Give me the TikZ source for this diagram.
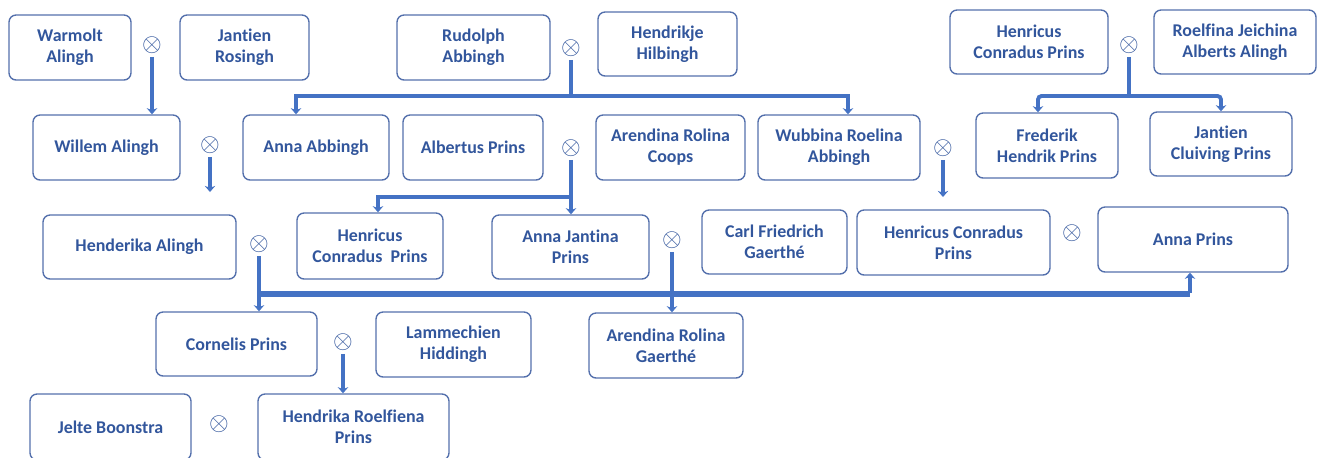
\documentclass[tikz,border=0pt]{standalone}
\usepackage{fontspec}
\setmainfont{Carlito}[Ligatures=NoCommon]
\usepackage{tikz}
\usetikzlibrary{arrows.meta,calc}
\definecolor{linkblue}{RGB}{68,114,196}
\definecolor{boxblue}{RGB}{84,112,172}
\definecolor{nameblue}{RGB}{50,86,156}
\tikzset{
  person/.style = {draw=boxblue, line width=0.8pt, rounded corners=4pt, align=center,
                   text=nameblue, font=\bfseries\fontsize{10.2}{11.9}\selectfont,
                   minimum height=1.3cm, inner sep=0pt},
  marry/.style  = {text=nameblue, inner sep=0pt, outer sep=2pt,
                   font=\fontsize{15}{15}\selectfont},
  wire/.style   = {draw=linkblue, line width=2.2pt},
  post/.style   = {wire, -{Stealth[length=3.5pt,width=6pt]}},
  bus/.style    = {draw=linkblue, line width=3.2pt}
}

\begin{document}
\begin{tikzpicture}[x=0.02cm,y=-0.02cm]
  \useasboundingbox (0,0) rectangle (1323,457);
  % oldest couples
  \node[person, minimum width=2.44cm] (WA) at (70,47.5) {Warmolt\\Alingh};
  \node[person, minimum width=2.58cm] (JR) at (244.5,47.5) {Jantien\\Rosingh};
  \node[person, minimum width=3.06cm] (RA) at (473.5,47.5) {Rudolph\\Abbingh};
  \node[person, minimum width=2.78cm, minimum height=1.28cm] (HH) at (667.5,44) {Hendrikje\\Hilbingh};
  \node[person, minimum width=3.16cm, minimum height=1.28cm] (HCP) at (1029,42) {Henricus\\Conradus Prins};
  \node[person, minimum width=3.24cm, minimum height=1.28cm] (RJA) at (1235,42) {Roelfina Jeichina\\Alberts Alingh};
  % second row
  \node[person, minimum width=2.94cm] (WiA) at (106.5,147.5) {Willem Alingh};
  \node[person, minimum width=2.92cm] (AA) at (316,147.5) {Anna Abbingh};
  \node[person, minimum width=2.80cm] (AbP) at (473,147.5) {Albertus Prins};
  \node[person, minimum width=2.98cm] (ARC) at (670.5,147.5) {Arendina Rolina\\Coops};
  \node[person, minimum width=3.24cm] (WRA) at (839,147.5) {Wubbina Roelina\\Abbingh};
  \node[person, minimum width=2.84cm] (FHP) at (1047,145.5) {Frederik\\Hendrik Prins};
  \node[person, minimum width=2.84cm, minimum height=1.28cm] (JCP) at (1221,144) {Jantien\\Cluiving Prins};
  % third row
  \node[person, minimum width=3.86cm, minimum height=1.28cm] (HA) at (139.5,247) {Henderika Alingh};
  \node[person, minimum width=2.92cm, minimum height=1.32cm] (HCP2) at (370,246) {Henricus\\Conradus\ \ Prins};
  \node[person, minimum width=3.14cm, minimum height=1.28cm] (AJP) at (570.5,247) {Anna Jantina\\Prins};
  \node[person, minimum width=2.90cm, minimum height=1.28cm] (CFG) at (774.5,242) {Carl Friedrich\\Gaerth\'e};
  \node[person, minimum width=3.86cm] (HCP3) at (953.5,242.5) {Henricus Conradus\\Prins};
  \node[person, minimum width=3.80cm] (AP) at (1193,239.5) {Anna Prins};
  % fourth row
  \node[person, minimum width=3.22cm, minimum height=1.28cm] (CP) at (236.5,344) {Cornelis Prins};
  \node[person, minimum width=3.10cm] (LH) at (453.5,344.5) {Lammechien\\Hiddingh};
  \node[person, minimum width=3.08cm] (ARG) at (666,345.5) {Arendina Rolina\\Gaerth\'e};
  % last row
  \node[person, minimum width=3.22cm, minimum height=1.32cm] (JB) at (110.5,427) {Jelte Boonstra};
  \node[person, minimum width=3.82cm, minimum height=1.32cm] (HRP) at (353.5,427) {Hendrika Roelfiena\\Prins};

  % marriages
  \node[marry] (xWA)  at (152,45)   {$\otimes$};
  \node[marry] (xRA)  at (571,48)   {$\otimes$};
  \node[marry] (xHCP) at (1129,45)  {$\otimes$};
  \node[marry] (xWiA) at (210,145)  {$\otimes$};
  \node[marry] (xAbP) at (571,148)  {$\otimes$};
  \node[marry] (xWRA) at (943,148)  {$\otimes$};
  \node[marry] (xHA)  at (259,244)  {$\otimes$};
  \node[marry] (xAJP) at (672,240)  {$\otimes$};
  \node[marry] (xHCP3) at (1072,233) {$\otimes$};
  \node[marry] (xCP)  at (343,342)  {$\otimes$};
  \node[marry] (xJB)  at (219,424)  {$\otimes$};

  \coordinate (bRA)  at (571,96);
  \coordinate (bHCP) at (1129,96);
  \coordinate (bAbP) at (571,197);
  \coordinate (bHA)  at (259,294);
  \coordinate (dWiA) at (210,192);
  \coordinate (dWRA) at (943,197);

  % children
  \draw[post] (xWA.south) -- (xWA.south |- WiA.north);
  \draw[post] (xWiA.south) -- (dWiA);
  \draw[wire] (xRA.south) -- (bRA);
  \draw[post] (bRA) -| ([xshift=-0.4cm]AA.north);
  \draw[post] (bRA) -| ([xshift=0.18cm]WRA.north);
  \draw[post] (xAbP.south) -- (xAbP.south |- AJP.north);
  \draw[post] (bAbP) -| ([xshift=0.16cm]HCP2.north);
  \draw[wire] (xHCP.south) -- (bHCP);
  \draw[post, rounded corners=2pt] (bHCP) -| ([xshift=-0.18cm]FHP.north);
  \draw[post, rounded corners=2pt] (bHCP) -| (JCP.north);
  \draw[post] (xWRA.south) -- (dWRA);
  \draw[post] (xHA.south) -- (xHA.south |- CP.north);
  \draw[bus] (bHA) -- ([xshift=-0.06cm]bHA -| AP.south);
  \draw[post] ([xshift=-0.06cm,yshift=0.03cm]bHA -| AP.south) -- ([xshift=-0.06cm]AP.south);
  \draw[post] (xAJP.south) -- (xAJP.south |- ARG.north);
  \draw[post] (xCP.south) -- (xCP.south |- HRP.north);
\end{tikzpicture}
\end{document}
